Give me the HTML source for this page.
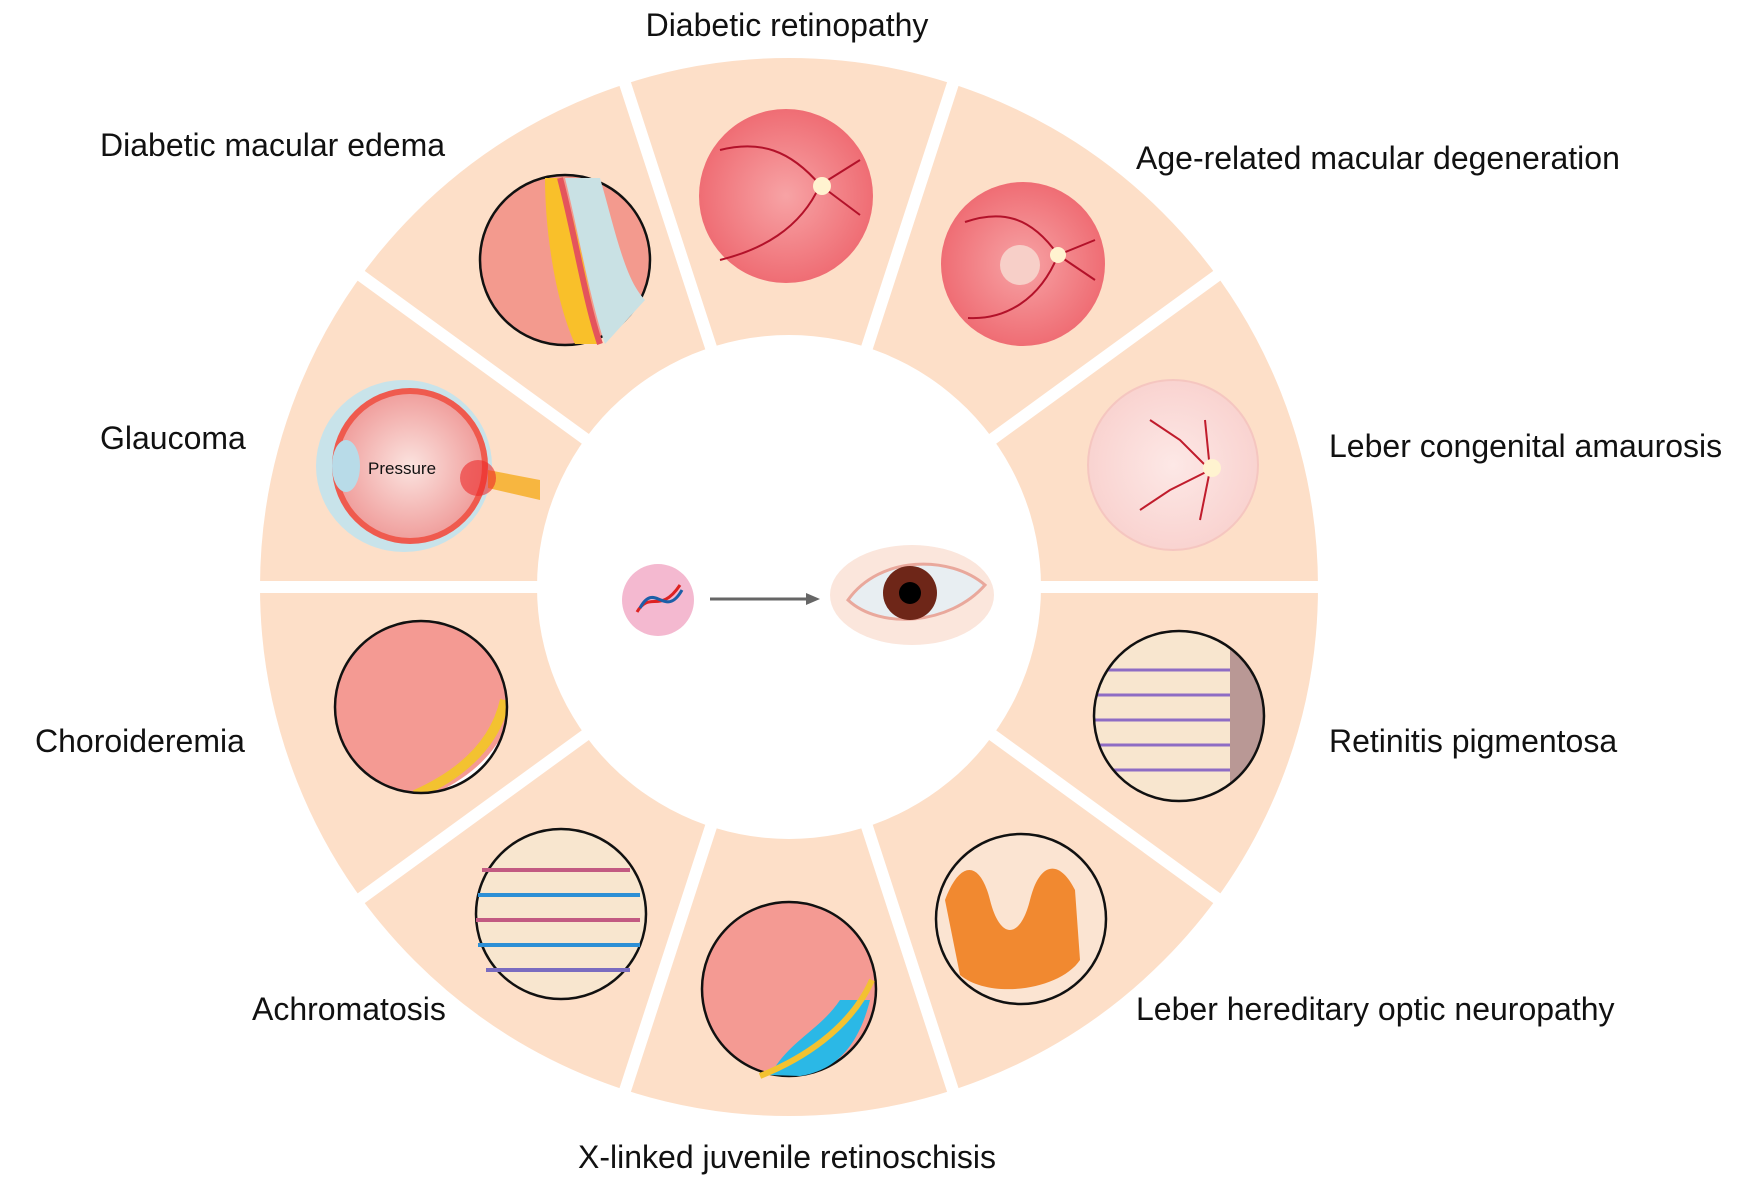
<!DOCTYPE html>
<html><head><meta charset="utf-8"><style>
html,body{margin:0;padding:0;background:#fff;}
svg{display:block}
text{font-family:"Liberation Sans",Arial,sans-serif;font-size:32px;fill:#111}
</style></head><body>
<svg width="1753" height="1186" viewBox="0 0 1753 1186" xmlns="http://www.w3.org/2000/svg">
<defs>
<radialGradient id="fund" cx="50%" cy="50%" r="50%"><stop offset="0" stop-color="#f7a3a5"/><stop offset="1" stop-color="#ef6d74"/></radialGradient>
<radialGradient id="fundl" cx="50%" cy="50%" r="50%"><stop offset="0" stop-color="#fde8e6"/><stop offset="1" stop-color="#f9d3d0"/></radialGradient>
<radialGradient id="eyeg" cx="50%" cy="50%" r="50%"><stop offset="0" stop-color="#fbe3df"/><stop offset="1" stop-color="#f0a09e"/></radialGradient>
<clipPath id="cp1"><circle cx="421" cy="707" r="86"/></clipPath>
<clipPath id="cp2"><circle cx="1179" cy="716" r="85"/></clipPath>
</defs>
<circle cx="789" cy="587" r="390" fill="none" stroke="#fddfc8" stroke-width="278"/>
<g stroke="#fff" stroke-width="12">
<line x1="240" y1="587" x2="1338" y2="587"/>
<line x1="345" y1="264" x2="1233" y2="910"/>
<line x1="619" y1="65" x2="959" y2="1109"/>
<line x1="959" y1="65" x2="619" y2="1109"/>
<line x1="1233" y1="264" x2="345" y2="910"/>
</g>
<circle cx="789" cy="587" r="252" fill="#fff"/>

<circle cx="786" cy="196" r="87" fill="url(#fund)"/>
<g stroke="#b3122a" stroke-width="2" fill="none"><path d="M820 185 C790 150 760 140 720 150 M820 185 C800 230 760 250 720 260 M820 185 L860 160 M820 185 L860 215"/></g>
<circle cx="822" cy="186" r="9" fill="#fff3d0"/>
<circle cx="1023" cy="264" r="82" fill="url(#fund)"/>
<g stroke="#b3122a" stroke-width="2" fill="none"><path d="M1058 255 C1030 215 1000 210 965 222 M1058 255 C1040 300 1005 320 968 318 M1058 255 L1095 240 M1058 255 L1095 280"/></g>
<circle cx="1020" cy="265" r="20" fill="#f7cfc8"/><circle cx="1058" cy="255" r="8" fill="#fff3d0"/>
<circle cx="1173" cy="465" r="85" fill="url(#fundl)" stroke="#f5c6c0" stroke-width="2"/>
<g stroke="#c01c2c" stroke-width="2" fill="none"><path d="M1210 470 L1180 440 L1150 420 M1210 470 L1170 490 L1140 510 M1210 470 L1205 420 M1210 470 L1200 520"/></g>
<circle cx="1212" cy="468" r="9" fill="#fff3d0"/>
<g clip-path="url(#cp2)">
<rect x="1090" y="630" width="180" height="180" fill="#f8e6cf"/>
<g stroke="#8e6cc4" stroke-width="3"><line x1="1090" y1="670" x2="1240" y2="670"/><line x1="1090" y1="695" x2="1240" y2="695"/><line x1="1090" y1="720" x2="1240" y2="720"/><line x1="1090" y1="745" x2="1240" y2="745"/><line x1="1090" y1="770" x2="1240" y2="770"/></g>
<rect x="1230" y="630" width="40" height="180" fill="#b99895"/>
</g>
<circle cx="1179" cy="716" r="85" fill="none" stroke="#111" stroke-width="2.5"/>
<circle cx="1021" cy="919" r="85" fill="#fbe4d2" stroke="#111" stroke-width="2.5"/>
<path d="M945 900 C960 860 980 860 990 900 C1000 940 1020 940 1030 900 C1040 860 1060 860 1075 890 L1080 960 C1060 990 990 1000 960 975 Z" fill="#f07e1e" opacity="0.9"/>
<circle cx="789" cy="989" r="87" fill="#f49a93" stroke="#111" stroke-width="2.5"/>
<path d="M770 1075 C790 1040 820 1030 840 1000 L870 1000 C860 1040 840 1070 800 1076 Z" fill="#2bb8e6"/>
<path d="M760 1076 C800 1060 850 1030 872 980" stroke="#f3c230" stroke-width="6" fill="none"/>
<circle cx="561" cy="914" r="85" fill="#f8e6cf" stroke="#111" stroke-width="2.5"/>
<g stroke-width="4"><line x1="482" y1="870" x2="630" y2="870" stroke="#c25a82"/><line x1="478" y1="895" x2="640" y2="895" stroke="#2d8fd5"/><line x1="476" y1="920" x2="640" y2="920" stroke="#c25a82"/><line x1="478" y1="945" x2="640" y2="945" stroke="#2d8fd5"/><line x1="486" y1="970" x2="630" y2="970" stroke="#7a6cc0"/></g>
<g clip-path="url(#cp1)">
<rect x="330" y="620" width="180" height="180" fill="#f49a93"/>
<path d="M420 800 C470 780 505 750 515 700 L520 800 Z" fill="#fff"/>
<path d="M415 795 C460 775 495 745 505 700" stroke="#f3c230" stroke-width="10" fill="none"/>
</g>
<circle cx="421" cy="707" r="86" fill="none" stroke="#111" stroke-width="2.5"/>
<circle cx="565" cy="260" r="85" fill="#f39a8e" stroke="#111" stroke-width="2.5"/>
<path d="M545 178 C545 230 555 300 575 344 L600 344 C590 300 580 230 560 178 Z" fill="#f9c02a"/>
<path d="M565 178 C578 230 590 300 605 344 L645 300 C625 280 615 230 600 178 Z" fill="#c9e1e4"/>
<path d="M560 178 C574 230 585 300 600 344" stroke="#e4545c" stroke-width="6" fill="none"/>
<ellipse cx="404" cy="466" rx="88" ry="86" fill="#c8e3ea"/>
<circle cx="410" cy="466" r="78" fill="#ef5a4e"/>
<circle cx="410" cy="466" r="72" fill="url(#eyeg)"/>
<ellipse cx="346" cy="466" rx="14" ry="26" fill="#b8dbe8"/>
<path d="M488 470 L540 480 L540 500 L488 488 Z" fill="#f7b640"/>
<circle cx="478" cy="478" r="18" fill="#ec2a2a" opacity="0.6"/>
<text x="368" y="474" style="font-size:17px">Pressure</text>
<circle cx="658" cy="600" r="36" fill="#f4b9d0"/>
<path d="M637 612 C650 590 660 615 680 585" stroke="#d22" stroke-width="3" fill="none"/>
<path d="M640 608 C655 580 665 620 682 590" stroke="#1c5fa8" stroke-width="3" fill="none"/>
<line x1="710" y1="599" x2="808" y2="599" stroke="#666" stroke-width="3"/>
<path d="M820 599 L806 593 L806 605 Z" fill="#666"/>
<ellipse cx="912" cy="595" rx="82" ry="50" fill="#fbe6dc"/>
<path d="M848 600 C880 555 950 555 985 585 C950 625 880 630 848 600 Z" fill="#e8eef2" stroke="#e9a89c" stroke-width="3"/>
<circle cx="910" cy="593" r="27" fill="#6e2618"/>
<circle cx="910" cy="593" r="11" fill="#000"/>
<text x="787" y="36" text-anchor="middle">Diabetic retinopathy</text>
<text x="100" y="156">Diabetic macular edema</text>
<text x="1136" y="169">Age-related macular degeneration</text>
<text x="100" y="449">Glaucoma</text>
<text x="1329" y="457">Leber congenital amaurosis</text>
<text x="35" y="752">Choroideremia</text>
<text x="1329" y="752">Retinitis pigmentosa</text>
<text x="252" y="1020">Achromatosis</text>
<text x="1136" y="1020">Leber hereditary optic neuropathy</text>
<text x="787" y="1168" text-anchor="middle">X-linked juvenile retinoschisis</text>
</svg>
</body></html>
